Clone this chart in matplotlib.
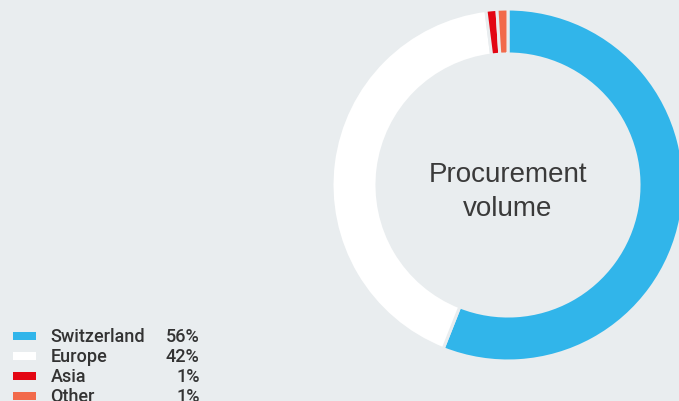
import matplotlib.pyplot as plt
from matplotlib.patches import Rectangle

regions = ["Switzerland", "Europe", "Asia", "Other"]
shares = [56, 42, 1, 1]
colors = ["#31b5ea", "#ffffff", "#e30613", "#f26a4b"]
bg = "#e9edef"

fig = plt.figure(figsize=(6.79, 4.02), dpi=100, facecolor=bg)
ax = fig.add_axes([0, 0, 1, 1])
ax.set_facecolor(bg)

# ring, clockwise from the top
ax.pie(shares, colors=colors, startangle=90, counterclock=False,
       center=(508, 216), radius=176,
       wedgeprops=dict(width=45, edgecolor=bg, linewidth=2.2))

ax.text(508, 210, "Procurement\nvolume", ha="center", va="center",
        fontsize=20, color="#3a3a3a", family="Liberation Sans",
        linespacing=1.4)

# legend rows at the bottom left
for i, (name, val, c) in enumerate(zip(regions, shares, colors)):
    y = 402 - 337 - i * 20
    ax.add_patch(Rectangle((13, y - 4), 23, 8, facecolor=c, edgecolor="none"))
    ax.text(50.5, y, name, ha="left", va="center", fontsize=13,
            color="#333333", family="Roboto", weight="medium")
    ax.text(199.5, y, f"{val}%", ha="right", va="center", fontsize=13,
            color="#333333", family="Roboto", weight="medium")

ax.set_xlim(0, 679)
ax.set_ylim(0, 402)
ax.set_aspect("auto")
ax.axis("off")

fig.savefig("out.png", dpi=100, facecolor=bg)
